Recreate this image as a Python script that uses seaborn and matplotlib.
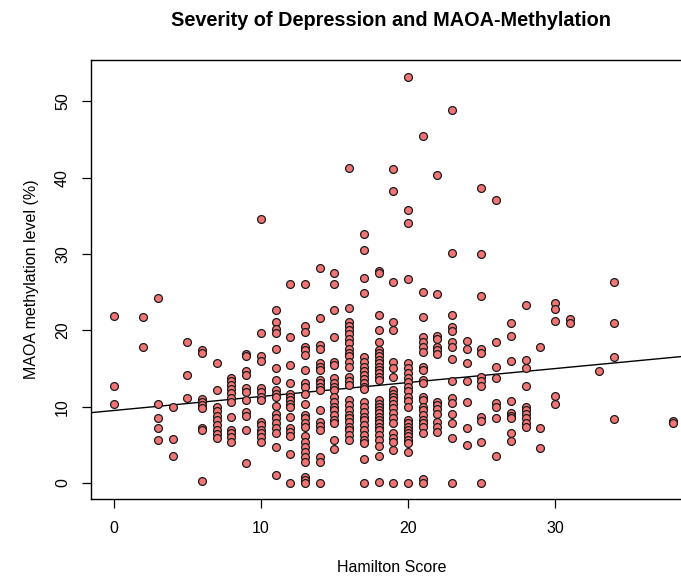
import matplotlib
matplotlib.use("Agg")
import matplotlib.pyplot as plt
import seaborn as sns
import pandas as pd

# MAOA methylation levels (%) grouped by Hamilton score
maoa_h00 = [21.9, 12.7, 10.4]
maoa_h02 = [21.8, 17.8]
maoa_h03 = [24.2, 10.3, 8.5, 7.2, 5.6]
maoa_h04 = [9.9, 5.8, 3.6]
maoa_h05 = [18.5, 14.2, 11.1]
maoa_h06 = [17.4, 17.0, 11.0, 10.6, 10.2, 9.8, 7.2, 7.0, 0.3]
maoa_h07 = [15.7, 12.2, 10.0, 9.4, 8.8, 8.2, 7.6, 7.0, 6.4, 5.9]
maoa_h08 = [13.8, 13.3, 12.8, 12.3, 11.8, 11.2, 10.6, 8.7, 6.9, 6.5, 6.0, 5.4]
maoa_h09 = [16.9, 16.6, 14.7, 14.1, 12.4, 11.95, 10.9, 9.3, 8.8, 6.9, 2.6]
maoa_h10 = [34.6, 19.6, 16.6, 16.0, 12.4, 11.95, 11.3, 10.9, 8.0, 7.6, 7.0, 6.5, 6.0, 5.4]
maoa_h11 = [22.6, 21.1, 20.2, 19.7, 17.6, 15.1, 13.5, 12.2, 11.6, 11.3, 10.1, 9.1,
            8.5, 7.8, 7.2, 6.5, 4.75, 1.1]
maoa_h12 = [26.1, 19.15, 15.4, 13.05, 11.7, 11.3, 10.9, 10.4, 10.0, 8.7, 7.2, 6.7,
            6.15, 3.8, 0.0]
maoa_h13 = [26.0, 20.5, 19.8, 17.8, 17.4, 16.75, 14.8, 13.05, 12.6, 11.7, 10.4, 8.9,
            8.5, 7.9, 7.4, 6.1, 5.4, 4.75, 4.1, 3.4, 2.8, 0.8, 0.4, 0.0]
maoa_h14 = [28.1, 21.55, 18.1, 17.6, 15.7, 15.2, 14.8, 13.5, 13.05, 12.6, 12.2, 9.55,
            8.0, 7.5, 6.9, 3.45, 2.8, 0.0]
maoa_h15 = [27.5, 26.0, 22.6, 19.1, 15.9, 15.4, 13.7, 13.05, 12.6, 12.2, 11.3, 10.6,
            10.0, 9.55, 8.9, 8.25, 7.8, 5.6, 4.5]
maoa_h16 = [41.2, 22.9, 21.1, 20.5, 20.0, 19.5, 18.8, 18.3, 17.6, 17.0, 16.6, 15.9,
            15.2, 13.9, 13.3, 12.8, 10.9, 10.2, 9.55, 8.9, 8.5, 8.0, 7.4, 7.0, 6.3, 5.6]
maoa_h17 = [32.6, 30.5, 26.9, 24.9, 16.5, 15.9, 15.2, 14.7, 14.1, 13.6, 13.1, 12.6,
            12.3, 10.6, 10.0, 9.3, 8.7, 8.25, 7.6, 7.0, 6.3, 5.6, 5.2, 3.1, 0.0]
maoa_h18 = [27.8, 27.5, 22.0, 20.0, 18.5, 17.4, 17.0, 16.6, 16.1, 15.7, 15.2, 14.8,
            14.4, 13.9, 13.5, 10.9, 10.4, 10.0, 9.6, 9.2, 8.7, 8.3, 7.8, 7.4, 7.0,
            6.3, 5.6, 4.8, 3.5, 0.1]
maoa_h19 = [41.1, 38.2, 26.3, 21.1, 20.0, 15.9, 15.0, 13.9, 12.2, 11.7, 11.3, 10.9,
            10.4, 9.8, 9.2, 8.5, 7.8, 6.5, 5.85, 5.4, 4.3, 0.0]
maoa_h20 = [53.2, 35.8, 34.0, 26.7, 15.7, 15.0, 14.4, 13.7, 13.2, 12.6, 12.0, 11.3,
            10.7, 10.0, 8.25, 7.8, 7.4, 7.0, 6.5, 6.1, 5.6, 5.3, 4.0, 0.0]
maoa_h21 = [45.5, 25.0, 21.8, 19.1, 18.5, 17.8, 17.2, 15.2, 14.8, 13.5, 13.05, 11.3,
            10.9, 10.0, 9.6, 8.9, 8.25, 7.8, 7.4, 6.6, 0.5, 0.0]
maoa_h22 = [40.3, 24.7, 19.2, 18.8, 17.8, 17.4, 16.9, 10.6, 10.2, 9.7, 9.1, 8.0, 7.4, 6.7]
maoa_h23 = [48.9, 30.1, 22.0, 20.4, 19.9, 18.5, 17.8, 16.2, 13.3, 11.1, 10.5, 9.1,
            7.8, 5.85, 0.0]
maoa_h24 = [18.6, 17.6, 15.75, 13.4, 10.6, 7.2, 5.0]
maoa_h25 = [38.7, 30.0, 24.5, 17.5, 17.0, 13.9, 13.4, 12.7, 8.6, 8.15, 5.4, 0.0]
maoa_h26 = [37.1, 18.5, 15.2, 13.7, 10.5, 9.9, 8.5, 3.6]
maoa_h27 = [20.9, 19.2, 16.0, 10.8, 9.2, 8.8, 8.5, 6.6, 5.5]
maoa_h28 = [23.3, 16.1, 15.0, 12.7, 10.0, 9.6, 9.1, 8.5, 7.9, 7.4]
maoa_h29 = [17.8, 7.2, 4.6]
maoa_h30 = [23.6, 22.8, 21.2, 11.4, 10.4]
maoa_h31 = [21.5, 20.9]
maoa_h33 = [14.7]
maoa_h34 = [26.35, 20.9, 16.5, 8.4]
maoa_h38 = [8.1, 7.9]

hamilton_scores = [0, 2, 3, 4, 5, 6, 7, 8, 9, 10, 11, 12, 13, 14, 15, 16, 17, 18,
                   19, 20, 21, 22, 23, 24, 25, 26, 27, 28, 29, 30, 31, 33, 34, 38]
level_groups = [maoa_h00, maoa_h02, maoa_h03, maoa_h04, maoa_h05, maoa_h06, maoa_h07,
                maoa_h08, maoa_h09, maoa_h10, maoa_h11, maoa_h12, maoa_h13, maoa_h14,
                maoa_h15, maoa_h16, maoa_h17, maoa_h18, maoa_h19, maoa_h20, maoa_h21,
                maoa_h22, maoa_h23, maoa_h24, maoa_h25, maoa_h26, maoa_h27, maoa_h28,
                maoa_h29, maoa_h30, maoa_h31, maoa_h33, maoa_h34, maoa_h38]

# regression line
fit_intercept = 9.5
fit_slope = 0.183

x_ticks = [0, 10, 20, 30]
y_ticks = [0, 10, 20, 30, 40, 50]

rows = []
for s, grp in zip(hamilton_scores, level_groups):
    for v in grp:
        rows.append((s, v))
df = pd.DataFrame(rows, columns=["Hamilton Score", "MAOA"])

sns.set_style("white")
plt.rcParams["font.family"] = ["Liberation Sans", "DejaVu Sans"]
plt.rcParams["text.color"] = "black"
plt.rcParams["axes.labelcolor"] = "black"
plt.rcParams["xtick.color"] = "black"
plt.rcParams["ytick.color"] = "black"

W, H = 681, 579
fig = plt.figure(figsize=(W / 100, H / 100), dpi=100)
left_px, right_px, top_px, bottom_px = 91.5, 695.0, 60.0, 499.3
ax = fig.add_axes([left_px / W, 1 - bottom_px / H,
                   (right_px - left_px) / W, (bottom_px - top_px) / H])

sns.scatterplot(data=df, x="Hamilton Score", y="MAOA", ax=ax, s=32,
                color="#F37474", edgecolor="#1a1a1a", linewidth=0.9,
                marker="o", zorder=3, legend=False)
ax.axline((0, fit_intercept), slope=fit_slope, color="black", lw=1.0, zorder=2)

ax.set_xlim(-1.52, 39.52)
ax.set_ylim(-2.13, 55.4)
ax.set_xticks(x_ticks)
ax.set_yticks(y_ticks)
ax.tick_params(axis="both", direction="out", length=6.5, width=0.9,
               color="black", labelcolor="black", labelsize=11.5, pad=9,
               left=True, bottom=True)
for lab in ax.get_yticklabels():
    lab.set_rotation(90)
    lab.set_va("center")

for sp in ax.spines.values():
    sp.set_color("black")
    sp.set_linewidth(1.0)

ax.set_xlabel("Hamilton Score", fontsize=11.5, color="black")
ax.set_ylabel("MAOA methylation level (%)", fontsize=11.5, color="black")
ax.xaxis.set_label_coords((392 - left_px) / (right_px - left_px),
                          (bottom_px - 568) / (bottom_px - top_px))
ax.xaxis.label.set_va("center")
ax.yaxis.set_label_coords((32 - left_px) / (right_px - left_px), 0.5)
ax.yaxis.label.set_va("center")

fig.text(391 / W, 1 - 20 / H, "Severity of Depression and MAOA-Methylation",
         ha="center", va="center", fontsize=14.3, fontweight="bold", color="black")

fig.savefig("out.png", dpi=100)
